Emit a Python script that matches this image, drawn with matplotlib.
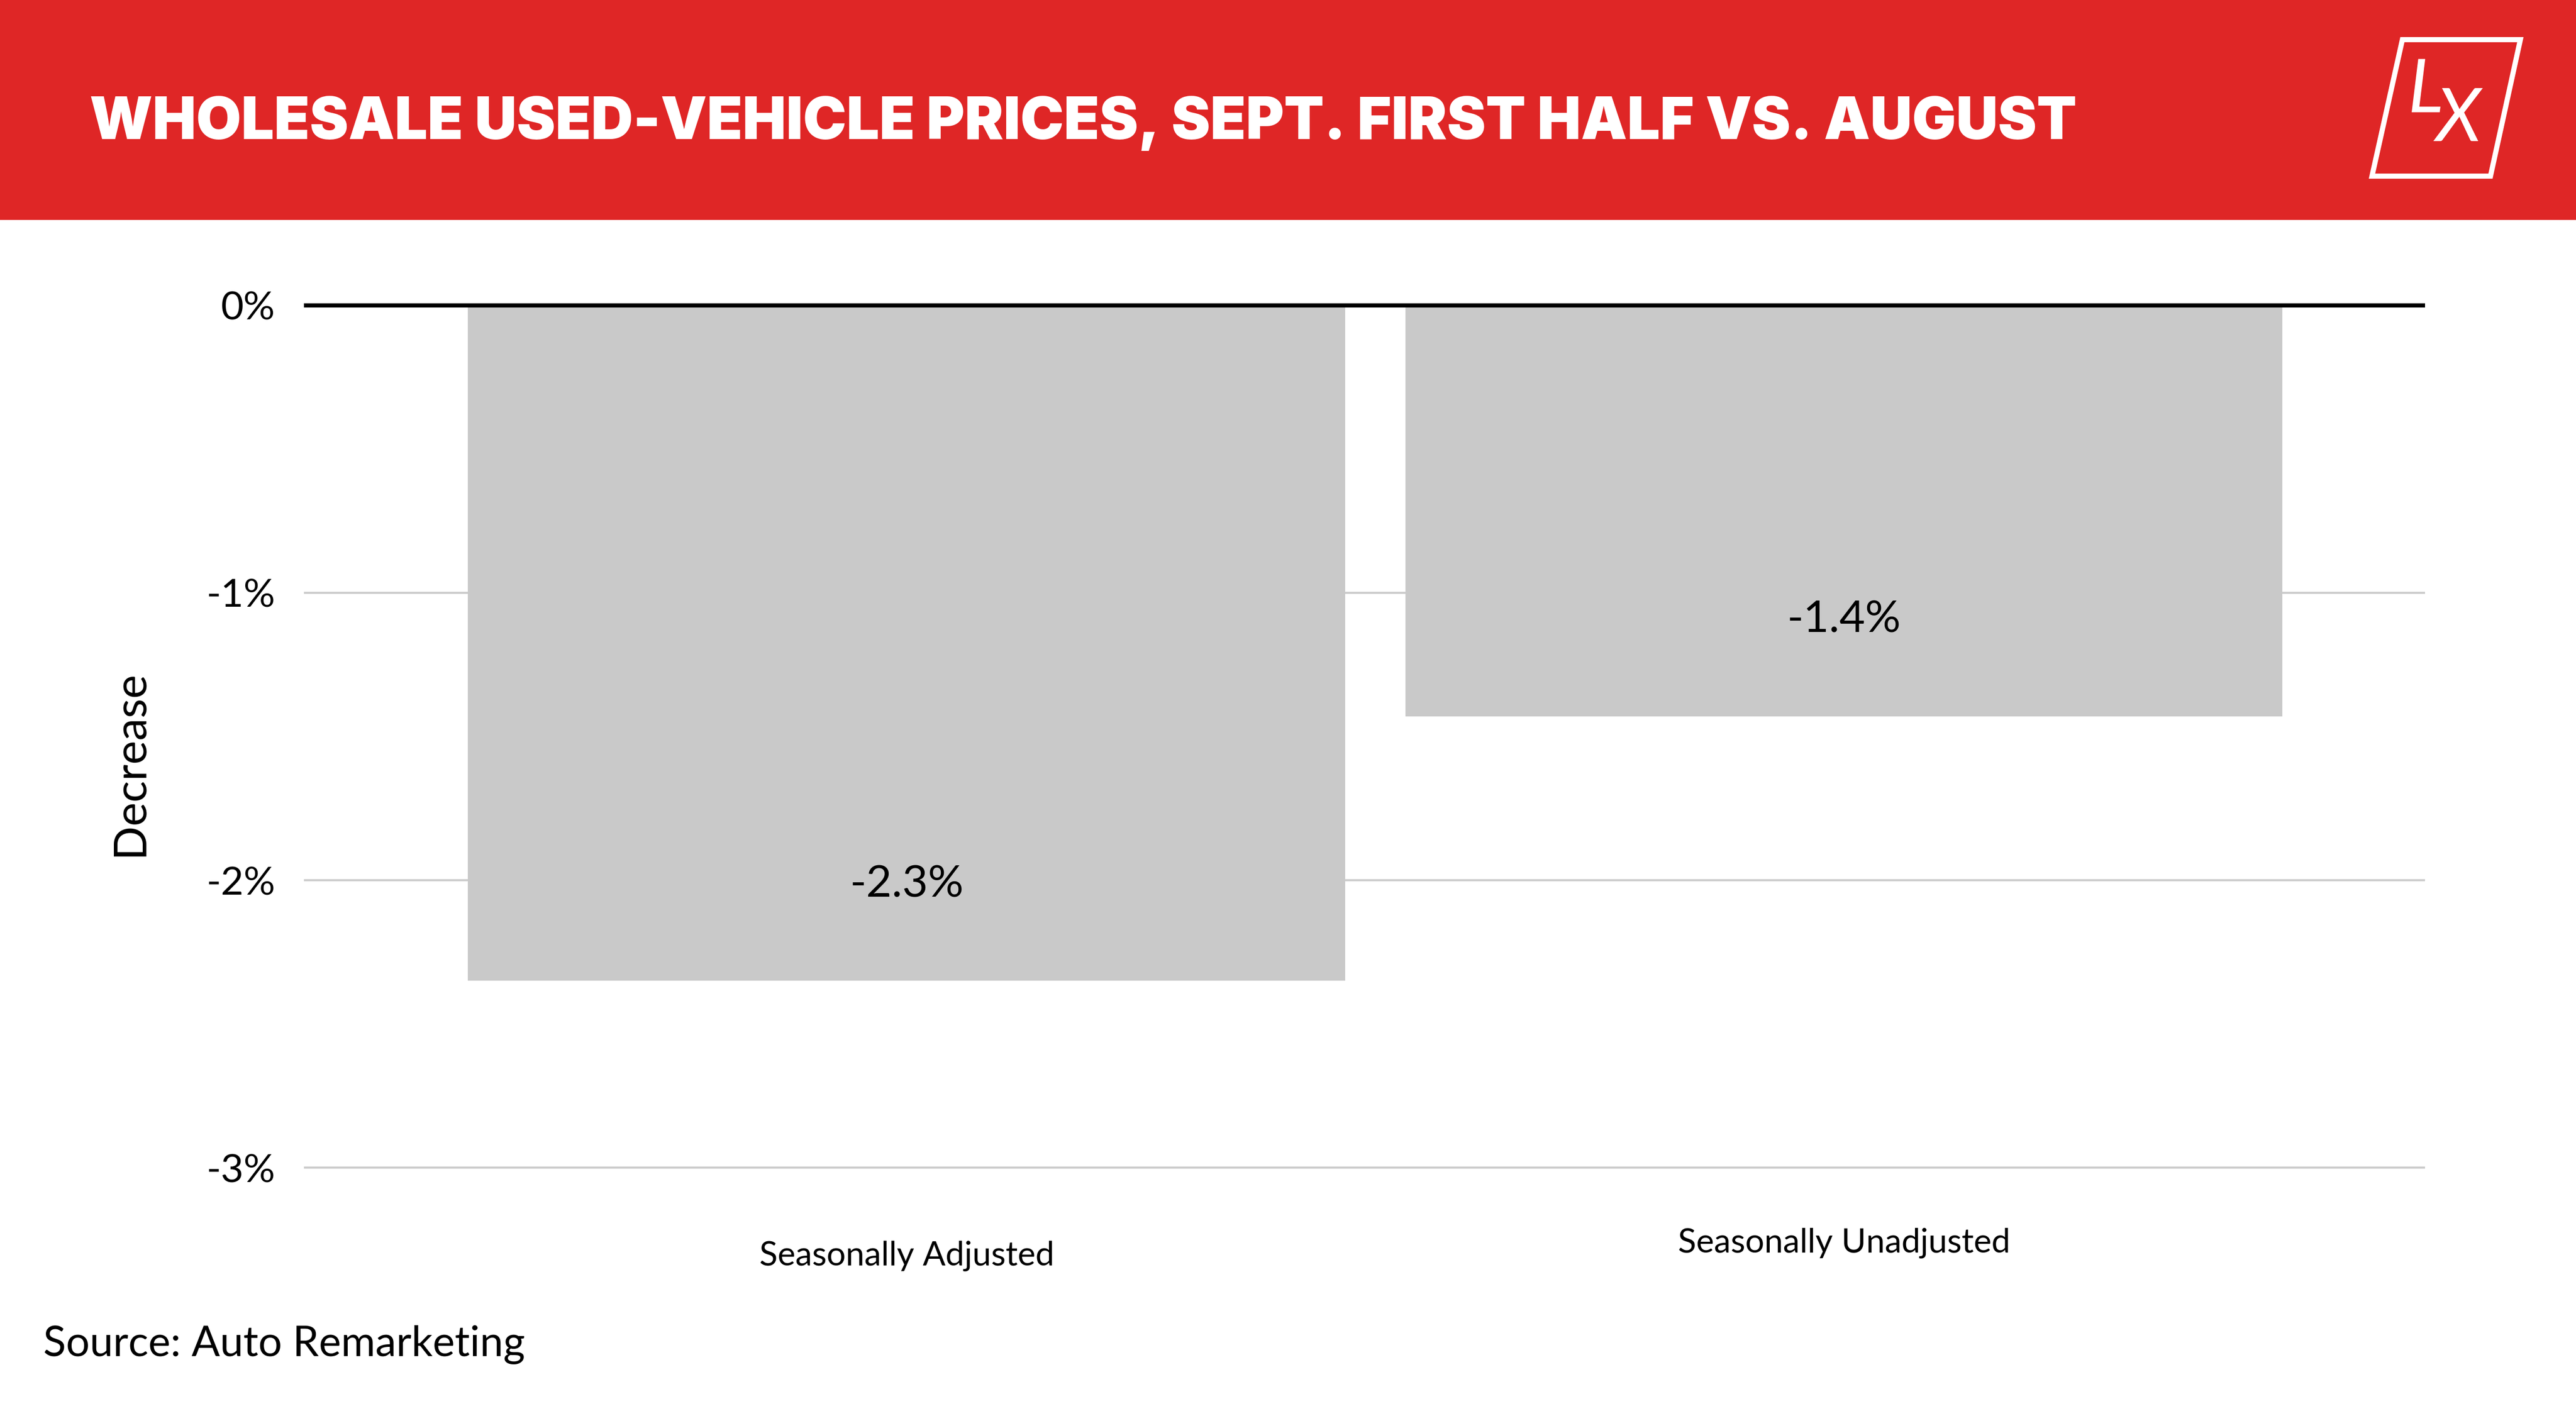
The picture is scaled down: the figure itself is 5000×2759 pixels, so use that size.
import matplotlib
matplotlib.use("Agg")
import matplotlib.pyplot as plt
from matplotlib.patches import Rectangle, Polygon

# data
categories = ["Seasonally Adjusted", "Seasonally Unadjusted"]
values = [-2.35, -1.43]
value_labels = ["-2.3%", "-1.4%"]
yticks = [0, -1, -2, -3]
ytick_labels = ["0%", "-1%", "-2%", "-3%"]

RED = "#df2626"
BAR = "#c9c9c9"
GRID = "#cccccc"
FONT = "Lato"

W, H = 5000, 2759
fig = plt.figure(figsize=(W / 100, H / 100), dpi=100)
fig.patch.set_facecolor("white")

# red header band
fig.patches.append(Rectangle((0, 1 - 427 / H), 1, 427 / H, transform=fig.transFigure,
                             facecolor=RED, edgecolor="none", zorder=0))
fig.text(174 / W, 1 - 270 / H, "WHOLESALE USED-VEHICLE PRICES, SEPT. FIRST HALF VS. AUGUST",
         color="white", fontsize=81.3, fontweight="black", family="Inter",
         ha="left", va="baseline")

# logo: slanted box with LX
pts = [(4663, 77), (4892, 77), (4834, 342), (4604, 342)]
fig.patches.append(Polygon([(x / W, 1 - y / H) for x, y in pts], closed=True,
                           transform=fig.transFigure, facecolor="none",
                           edgecolor="white", linewidth=7.2))
fig.text(4708 / W, 1 - 177 / H, "L", color="white", fontsize=104, family=FONT,
         style="italic", ha="center", va="center")
fig.text(4772 / W, 1 - 234 / H, "X", color="white", fontsize=104, family=FONT,
         style="italic", ha="center", va="center")

# plot area
ax = fig.add_axes([590 / W, 1 - 2323 / H, (4707 - 590) / W, (2323 - 537) / H])
ax.set_ylim(-3.1, 0.1)
ax.set_xlim(-0.643, 1.62)

for t in yticks[1:]:
    ax.axhline(t, color=GRID, linewidth=2.9, zorder=1)

x = list(range(len(categories)))
ax.bar(x, values, width=0.936, color=BAR, zorder=2, align="center")
ax.axhline(0, color="black", linewidth=5.8, zorder=3)

for xi, v, lab in zip(x, values, value_labels):
    ax.text(xi, v + 0.335, lab, ha="center", va="center", fontsize=62,
            family=FONT, color="black", zorder=4)

cat_y = [-3.34, -3.294]
for xi, cat, cy in zip(x, categories, cat_y):
    ax.text(xi, cy, cat, ha="center", va="baseline", fontsize=47,
            family=FONT, color="black", clip_on=False)

ax.set_yticks(yticks)
ax.set_yticklabels(ytick_labels, fontsize=55, family=FONT)
ax.tick_params(axis="y", length=0, pad=40)
ax.set_xticks([])
for s in ax.spines.values():
    s.set_visible(False)

fig.text(252 / W, 1 - 1482 / H, "Decrease", rotation=90, fontsize=63, family=FONT,
         ha="center", va="center")
fig.text(84 / W, 1 - 2633 / H, "Source: Auto Remarketing", fontsize=58.5, family=FONT,
         ha="left", va="baseline")

fig.savefig("out.png", dpi=100, facecolor="white")
